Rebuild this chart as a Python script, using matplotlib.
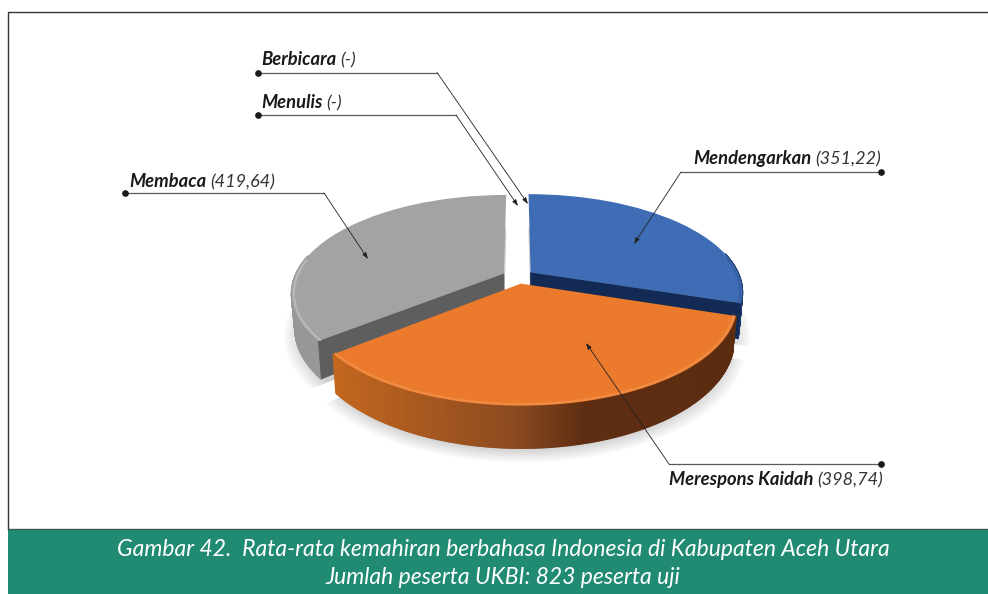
import numpy as np
import matplotlib
matplotlib.use("Agg")
import matplotlib.pyplot as plt
from matplotlib.transforms import Transform
from matplotlib.collections import PolyCollection
from matplotlib.colors import LinearSegmentedColormap

# ---- data ----
pie_labels = ["Mendengarkan", "Merespons Kaidah", "Membaca", "Menulis", "Berbicara"]
pie_values = [351.22, 398.74, 419.64, 0.0, 0.0]
value_labels = ["(351,22)", "(398,74)", "(419,64)", "(-)", "(-)"]
caption_lines = ["Gambar 42.  Rata-rata kemahiran berbahasa Indonesia di Kabupaten Aceh Utara",
                 "Jumlah peserta UKBI: 823 peserta uji"]

top_colors = ["#3F6DB5", "#EC7A2D", "#A2A4A3"]
cut_colors = ["#132B54", None, "#5E5E5E"]
side_colors = ["#1C3A6B", None, "#979797"]
rim_colors = ["#2F5597", "#F39A56", "#C9CACA"]
FONT = "Lato"

# ---- layout in pixels ----
W, H = 988, 594
CX, CY, A, B, K, DEPTH = 518.0, 276.5, 209.0, 95.0, 0.196, 33.5
EXPLODE = 0.075

def project(u, v, d=0.0):
    u, v = np.asarray(u, float), np.asarray(v, float)
    w = 1 + K * v
    x = CX + A * u / w * (1 - 0.015 * d)
    y = CY - B * v / w + DEPTH * d / w
    return x, y

class Perspective(Transform):
    input_dims = output_dims = 2
    is_separable = False
    has_inverse = False
    def transform_non_affine(self, values):
        values = np.asarray(values, float)
        x, y = project(values[:, 0], values[:, 1])
        return np.column_stack([x, y])

fig = plt.figure(figsize=(W / 100, H / 100), dpi=100, facecolor="white")
ax = fig.add_axes([0, 0, 1, 1])

nonzero = [i for i, val in enumerate(pie_values) if val > 0]
wedges, _ = ax.pie([pie_values[i] for i in nonzero], explode=[EXPLODE] * len(nonzero),
                   colors=[top_colors[i] for i in nonzero], startangle=90,
                   counterclock=False, wedgeprops=dict(linewidth=0))
ax.set_aspect("auto")
ax.set_xlim(0, W)
ax.set_ylim(H, 0)
ax.axis("off")
persp = Perspective() + ax.transData

def angles(w, n=240):
    return np.radians(np.linspace(w.theta1, w.theta2, n))

def arc(w, n=240, r=None):
    t = angles(w, n)
    r = w.r if r is None else r
    return w.center[0] + r * np.cos(t), w.center[1] + r * np.sin(t)

orange_cmap = LinearSegmentedColormap.from_list(
    "o", [(0, "#C2671F"), (0.45, "#8C4A20"), (0.62, "#5F2E12"), (1, "#5C2C10")])

# soft shadow
for w in wedges:
    u, v = arc(w)
    for s, al in zip(np.linspace(1.05, 0.97, 8), [0.025] * 8):
        uu = np.r_[w.center[0], w.center[0] + (u - w.center[0]) * s]
        vv = np.r_[w.center[1], w.center[1] + (v - w.center[1]) * s]
        x, y = project(uu, vv, 1.0)
        ax.fill(x, y + 6, color="black", alpha=al, lw=0, zorder=1)

# draw back to front: blue, grey, orange
order = {0: 3, 2: 6, 1: 9}
for i, w in zip(nonzero, wedges):
    z = order[i]
    u, v = arc(w)
    t = angles(w)
    x0, y0 = project(u, v, 0)
    x1, y1 = project(u, v, 1)
    keep = [j for j in range(len(u) - 1) if np.sin(t[j]) < 0.2]   # only the front-facing rim
    quads = [[(x0[j], y0[j]), (x0[j + 1], y0[j + 1]), (x1[j + 1], y1[j + 1]), (x1[j], y1[j])]
             for j in keep]
    if side_colors[i] is None:
        tt = (x0[keep] - x0.min()) / (x0.max() - x0.min())
        cols = orange_cmap(tt)
    else:
        cols = side_colors[i]
    ax.add_collection(PolyCollection(quads, facecolors=cols, edgecolors=cols, linewidths=1.2,
                                     zorder=z, capstyle="butt"))
    if cut_colors[i] is not None:
        end = -1 if i == 2 else 0      # exposed cut face of the grey and blue wedges
        xa0, ya0 = project(w.center[0], w.center[1], 0)
        xa1, ya1 = project(w.center[0], w.center[1], 1)
        ax.fill([xa0, x0[end], x1[end], xa1], [ya0, y0[end], y1[end], ya1],
                color=cut_colors[i], lw=0.5, zorder=z + 0.5)
    w.set_transform(persp)
    w.set_zorder(z + 1)
    front = np.sin(t) < 0.15
    ur, vr = arc(w, r=w.r * 0.99)
    xr, yr = project(ur, vr, 0)
    ax.plot(xr[front], yr[front], color=rim_colors[i], lw=1.6, alpha=0.55, zorder=z + 1.5,
            solid_capstyle="round")

# ---- frame and caption band ----
ax.plot([8, 8, W], [528, 11.5, 11.5], color="#333333", lw=1.0, zorder=0.5)
ax.fill([8, W, W, 8], [529, 529, H, H], color="#208B72", lw=0, zorder=20)
ax.plot([8, W], [529, 529], color="#3c5a52", lw=1.0, zorder=21)
ax.text(503, 549, caption_lines[0], color="white", fontsize=16.5, style="italic", family=FONT,
        ha="center", va="center", zorder=22)
ax.text(503, 578, caption_lines[1], color="white", fontsize=16.5, style="italic", family=FONT,
        ha="center", va="center", zorder=22)

# ---- leaders and labels (pixel layout) ----
leaders = {
    "Berbicara": ((258, 72.5), (437, 72.5), (528, 204), (261, 65)),
    "Menulis": ((258, 115), (456, 115), (518, 206), (261, 108)),
    "Membaca": ((125, 193), (324, 193), (368, 259), (129, 187)),
    "Mendengarkan": ((881, 172), (681, 172), (634, 244), (693, 164)),
    "Merespons Kaidah": ((881, 464), (669, 464), (586, 343), (669, 485)),
}
rend = fig.canvas.get_renderer()
for name, val in zip(pie_labels, value_labels):
    dot, elbow, tip, txt = leaders[name]
    ax.plot([dot[0], elbow[0]], [dot[1], elbow[1]], color="#5a5a5a", lw=0.9, zorder=30)
    ax.plot(*dot, "o", color="#1a1a1a", ms=3.8, zorder=31)
    ax.annotate("", xy=tip, xytext=elbow, zorder=31,
                arrowprops=dict(arrowstyle="-|>,head_length=0.38,head_width=0.13", color="#222222",
                                lw=0.6, shrinkA=0, shrinkB=0))
    t1 = ax.text(txt[0], txt[1], name, fontsize=13.2, style="italic", weight="bold", family=FONT,
                 color="#1a1a1a", va="baseline", ha="left", zorder=32)
    bb = t1.get_window_extent(rend)
    ax.text(txt[0] + bb.width + 4, txt[1], val, fontsize=13, style="italic", family=FONT,
            color="#333333", va="baseline", ha="left", zorder=32)

fig.savefig("out.png", dpi=100, facecolor="white")
